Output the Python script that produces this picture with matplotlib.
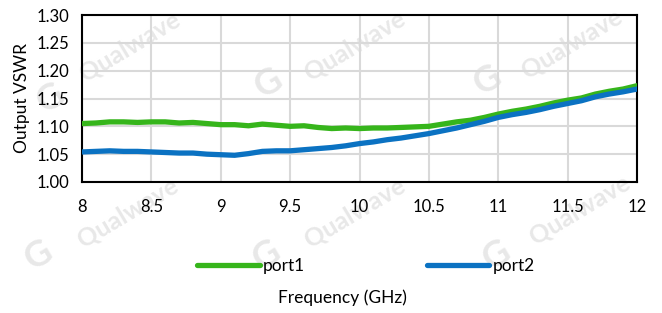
import matplotlib
matplotlib.use("Agg")
import matplotlib.pyplot as plt

freq = [8.0, 8.1, 8.2, 8.3, 8.4, 8.5, 8.6, 8.7, 8.8, 8.9,
        9.0, 9.1, 9.2, 9.3, 9.4, 9.5, 9.6, 9.7, 9.8, 9.9,
        10.0, 10.1, 10.2, 10.3, 10.4, 10.5, 10.6, 10.7, 10.8, 10.9,
        11.0, 11.1, 11.2, 11.3, 11.4, 11.5, 11.6, 11.7, 11.8, 11.9, 12.0]
port1 = [1.105, 1.106, 1.108, 1.108, 1.107, 1.108, 1.108, 1.106, 1.107, 1.105,
         1.103, 1.103, 1.101, 1.104, 1.102, 1.100, 1.101, 1.098, 1.096, 1.097,
         1.096, 1.097, 1.097, 1.098, 1.099, 1.100, 1.104, 1.108, 1.111, 1.116,
         1.122, 1.127, 1.131, 1.136, 1.142, 1.147, 1.151, 1.158, 1.163, 1.167, 1.173]
port2 = [1.054, 1.055, 1.056, 1.055, 1.055, 1.054, 1.053, 1.052, 1.052, 1.050,
         1.049, 1.048, 1.051, 1.055, 1.056, 1.056, 1.058, 1.060, 1.062, 1.065,
         1.069, 1.072, 1.076, 1.079, 1.083, 1.087, 1.092, 1.097, 1.103, 1.109,
         1.116, 1.121, 1.125, 1.130, 1.136, 1.141, 1.146, 1.153, 1.158, 1.162, 1.167]
xticks = [8, 8.5, 9, 9.5, 10, 10.5, 11, 11.5, 12]
xticklabels = ["8", "8.5", "9", "9.5", "10", "10.5", "11", "11.5", "12"]
yticks = [1.00, 1.05, 1.10, 1.15, 1.20, 1.25, 1.30]
series_names = ["port1", "port2"]

plt.rcParams['font.family'] = ['Lato', 'DejaVu Sans']

W, H = 662, 313
fig = plt.figure(figsize=(W / 100, H / 100), dpi=100)
ax = fig.add_axes([82 / W, 1 - 182 / H, (637 - 82) / W, (182 - 15) / H])
ax.patch.set_alpha(0)

# watermarks
wm_color = "#e8e8e8"
for (x, y) in [(130, 47), (355, 46), (572, 44), (128, 213), (355, 213), (580, 210)]:
    fig.text(x / W, 1 - y / H, "Qualwave", rotation=31, fontsize=18, fontweight="bold",
             color=wm_color, ha="center", va="center", zorder=-5)
for (x, y) in [(50, 98), (268, 83), (487, 80), (38, 255), (266, 255), (496, 255)]:
    fig.text(x / W, 1 - y / H, "G", rotation=31, fontsize=26, fontweight="bold",
             color=wm_color, ha="center", va="center", zorder=-5)

l1, = ax.plot(freq, port1, color="#36b51b", lw=3.8, solid_capstyle="round", zorder=3)
l2, = ax.plot(freq, port2, color="#0b72c2", lw=3.8, solid_capstyle="round", zorder=3)

ax.set_xlim(8, 12)
ax.set_ylim(1.0, 1.3)
ax.set_xticks(xticks)
ax.set_xticklabels(xticklabels)
ax.set_yticks(yticks)
ax.set_yticklabels([f"{v:.2f}" for v in yticks])
ax.grid(True, color="#d9d9d9", lw=1.5)
ax.set_axisbelow(True)
ax.tick_params(length=0, labelsize=12, colors="#000000")
ax.tick_params(axis="x", pad=12)
ax.tick_params(axis="y", pad=9)
for s in ax.spines.values():
    s.set_color("#000000")
    s.set_linewidth(1.5)

fig.text(22 / W, 1 - 98 / H, "Output VSWR", rotation=90, fontsize=12.5,
         ha="center", va="center")
fig.text(342 / W, 1 - 298 / H, "Frequency (GHz)", fontsize=12.5,
         ha="center", va="center")

fig.legend([l1, l2], series_names, loc="center", bbox_to_anchor=(366 / W, 1 - 266 / H),
           ncol=2, frameon=False, fontsize=12.5, handlelength=3.6, handletextpad=0.2,
           columnspacing=7.0)

fig.savefig("out.png", dpi=100)
